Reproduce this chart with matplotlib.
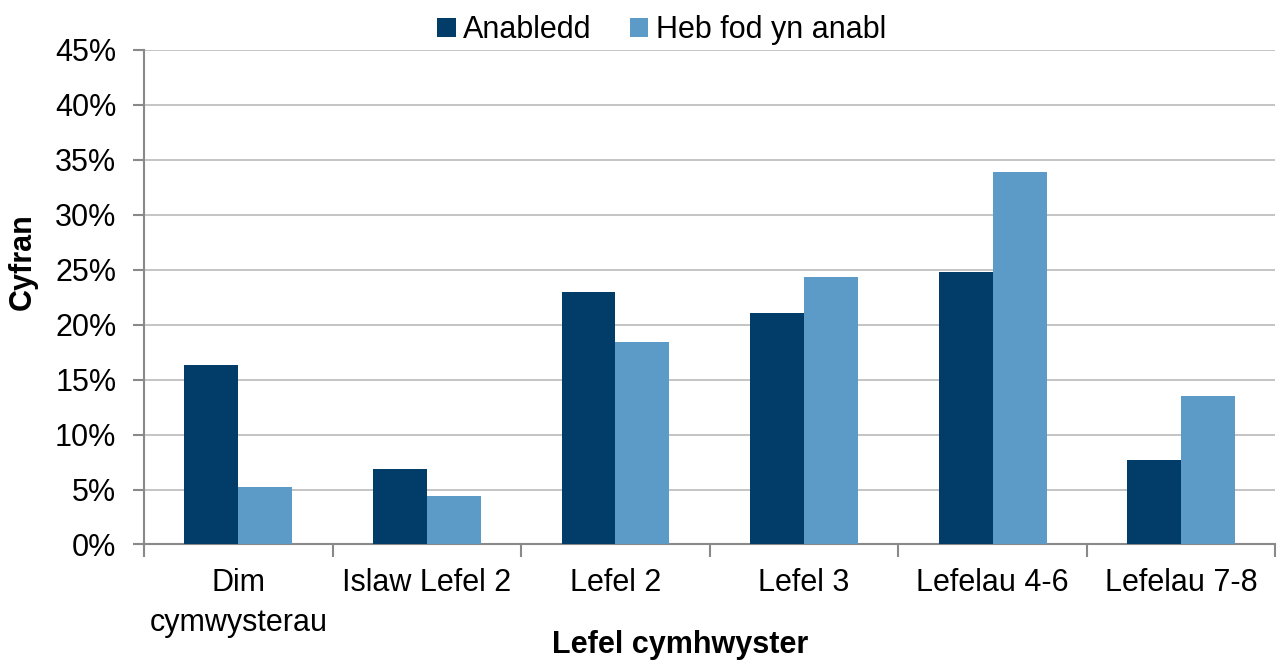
import numpy as np
import matplotlib.pyplot as plt
from matplotlib.ticker import FuncFormatter

plt.rcParams['font.family'] = ['Liberation Sans', 'DejaVu Sans']

# data
categories = ['Dim\ncymwysterau', 'Islaw Lefel 2', 'Lefel 2', 'Lefel 3', 'Lefelau 4-6', 'Lefelau 7-8']
anabledd = [16.3, 6.9, 23.0, 21.1, 24.8, 7.7]
heb_anabl = [5.2, 4.4, 18.4, 24.3, 33.9, 13.5]
series_names = ['Anabledd', 'Heb fod yn anabl']

dark = '#023D6A'
light = '#5C9AC8'
axis_grey = '#898989'
fs = 22
W, H = 1278, 662

fig = plt.figure(figsize=(W / 100, H / 100), dpi=100)
ax = fig.add_axes([0.1127, 0.1775, 0.8853, 0.747])

x = np.arange(len(categories))
w = 0.286
ax.bar(x - w / 2, anabledd, w, color=dark, label=series_names[0], zorder=3)
ax.bar(x + w / 2, heb_anabl, w, color=light, label=series_names[1], zorder=3)

ax.set_xlim(-0.5, len(categories) - 0.5)
ax.set_ylim(0, 45)
ax.set_yticks(np.arange(0, 46, 5))
ax.yaxis.set_major_formatter(FuncFormatter(lambda v, p: f'{v:.0f}%'))
ax.yaxis.grid(True, color='#BFBFBF', linewidth=1.3, zorder=0)

# category labels between boundary ticks
ax.set_xticks(x)
ax.set_xticklabels(categories, fontsize=fs, linespacing=1.45)
ax.tick_params(axis='x', which='major', length=0, pad=17)
ax.set_xticks(np.arange(-0.5, len(categories)), minor=True)
ax.tick_params(axis='x', which='minor', length=9, width=1.5, color=axis_grey, direction='out')
ax.tick_params(axis='y', length=8, width=1.5, color=axis_grey, labelsize=fs, pad=12)

for s in ['top', 'right']:
    ax.spines[s].set_visible(False)
for s in ['left', 'bottom']:
    ax.spines[s].set_color(axis_grey)
    ax.spines[s].set_linewidth(1.5)

# axis titles placed as in the original
fig.text(23 / W, 1 - 262 / H, 'Cyfran', rotation=90, fontsize=fs, fontweight='bold',
         ha='center', va='center')
fig.text(680 / W, 1 - 645 / H, 'Lefel cymhwyster', fontsize=fs, fontweight='bold',
         ha='center', va='center')

ax.legend(loc='lower center', bbox_to_anchor=(0.4576, 0.985), ncol=2, frameon=False,
          fontsize=fs, handlelength=0.6, handleheight=0.6, handletextpad=0.25,
          columnspacing=1.25, borderaxespad=0)

fig.savefig('out.png', dpi=100)
